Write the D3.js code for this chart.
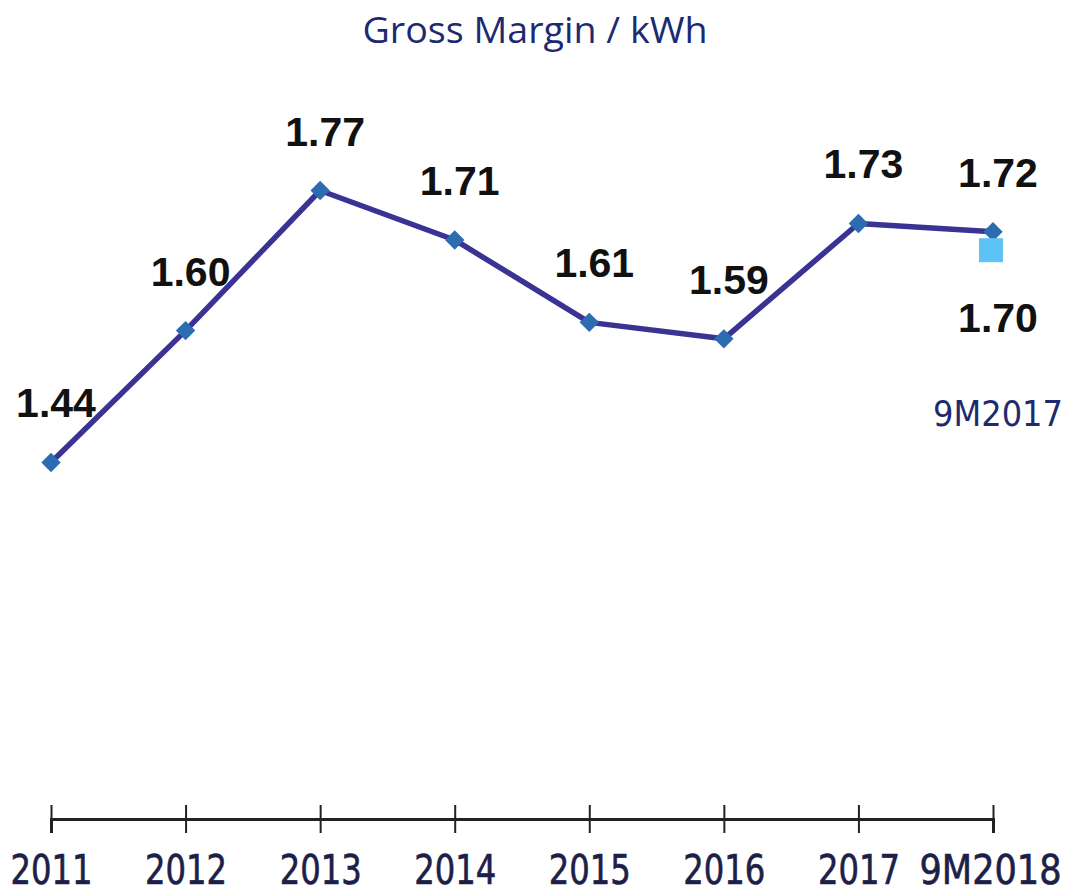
<!DOCTYPE html>
<html><head><meta charset="utf-8">
<script src="https://cdn.jsdelivr.net/npm/d3@7"></script>
<style>body{margin:0;background:#fff}svg{display:block}</style>
</head><body>
<script>
const categories = ["2011","2012","2013","2014","2015","2016","2017","9M2018"];
const values = [1.44,1.60,1.77,1.71,1.61,1.59,1.73,1.72];
const valueLabels = ["1.44","1.60","1.77","1.71","1.61","1.59","1.73","1.72"];
const compareCategory = "9M2018";
const compareValue = 1.70;
const compareLabel = "1.70";
const compareName = "9M2017";
const title = "Gross Margin / kWh";

const W = 1073, H = 892;
const svg = d3.select("body").append("svg").attr("width", W).attr("height", H);

const x = d3.scalePoint().domain(categories).range([51, 993]);
const y = d3.scaleLinear().domain([1.0, 2.0]).range([825, 1]);

const condFont = "DejaVu Sans Condensed, DejaVu Sans, Verdana, sans-serif";

svg.append("text").attr("x", 535).attr("y", 43).attr("text-anchor","middle")
  .attr("font-family","Open Sans, sans-serif").attr("font-size", 36)
  .attr("textLength", 345).attr("lengthAdjust","spacingAndGlyphs")
  .attr("fill","#1c2a72").text(title);

// axis
const axis = d3.axisBottom(x).tickSizeOuter(0).tickSize(14).tickPadding(0);
const gA = svg.append("g").attr("transform","translate(0,819)").call(axis);
gA.select(".domain").attr("stroke","#222").attr("stroke-width",3);
gA.selectAll(".tick line").attr("y1",-14).attr("y2",14).attr("stroke","#222").attr("stroke-width",2);
gA.selectAll(".tick text").attr("y", 65).attr("dy",0)
  .attr("x", d => d.length === 4 ? 0 : -3)
  .attr("font-family", condFont).style("font-stretch","condensed")
  .attr("font-size", 40).attr("fill","#1c2048")
  .attr("stroke","#1c2048").attr("stroke-width",0.6)
  .attr("textLength", d => d.length === 4 ? 82 : 142).attr("lengthAdjust","spacingAndGlyphs");

// line
const line = d3.line().x((d,i)=>x(categories[i])).y(d=>y(d));
svg.append("path").datum(values).attr("d", line).attr("fill","none")
  .attr("stroke","#3a3394").attr("stroke-width",5.5).attr("stroke-linejoin","round");

// markers
svg.selectAll(".m").data(values).join("path").attr("class","m")
  .attr("d", d3.symbol(d3.symbolDiamond2, 240))
  .attr("transform",(d,i)=>`translate(${x(categories[i])},${y(d)})`)
  .attr("fill","#2c6db0");

// compare square
const sq = 24;
svg.append("rect").attr("x", x(compareCategory)-sq/2-2).attr("y", y(compareValue)-sq/2+2)
  .attr("width", sq).attr("height", sq).attr("fill","#5cc3f2");

// labels
svg.selectAll(".lbl").data(values).join("text").attr("class","lbl")
  .attr("x",(d,i)=>x(categories[i])+5).attr("y",d=>y(d)-45)
  .attr("text-anchor","middle").attr("font-family","Liberation Sans, Arial, sans-serif")
  .attr("font-weight","bold").attr("font-size",41).attr("fill","#111")
  .text((d,i)=>valueLabels[i]);

svg.append("text").attr("x", x(compareCategory)+5).attr("y", y(compareValue)+84)
  .attr("text-anchor","middle").attr("font-family","Liberation Sans, Arial, sans-serif")
  .attr("font-weight","bold").attr("font-size",41).attr("fill","#111").text(compareLabel);

svg.append("text").attr("x", 998).attr("y", 426)
  .attr("text-anchor","middle").attr("font-family", condFont).style("font-stretch","condensed")
  .attr("font-size", 35).attr("textLength",130).attr("lengthAdjust","spacingAndGlyphs")
  .attr("fill","#1f2a6e").text(compareName);
</script>
</body></html>
